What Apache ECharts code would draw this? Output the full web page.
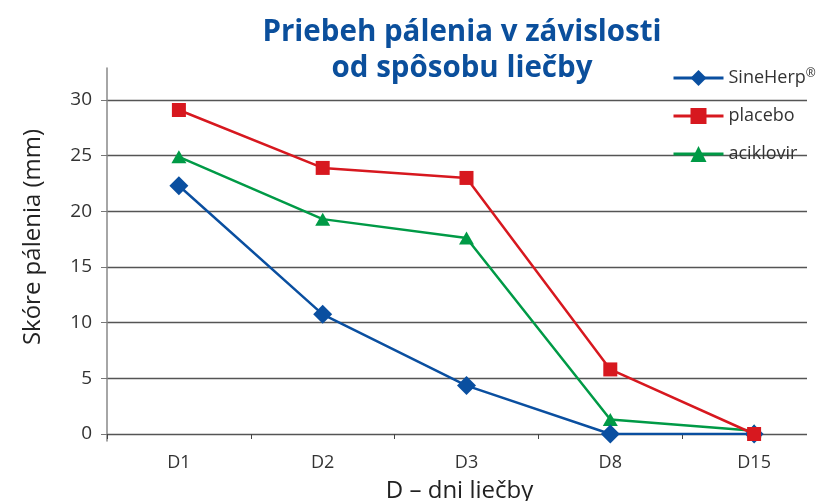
<!DOCTYPE html>
<html>
<head>
<meta charset="utf-8">
<script src="https://cdn.jsdelivr.net/npm/echarts@6/dist/echarts.min.js"></script>
<style>
  html, body { margin: 0; padding: 0; background: #fff; }
  #chart { width: 819px; height: 501px; }
</style>
</head>
<body>
<div id="chart"></div>
<script>
// dni liečby
var categories = ['D1', 'D2', 'D3', 'D8', 'D15'];
// skóre pálenia (mm)
var sineHerp = [22.3, 10.75, 4.35, 0, 0];
var placebo = [29.1, 23.9, 23.0, 5.8, 0];
var aciklovir = [24.9, 19.3, 17.6, 1.3, 0.3];

var font = 'Open Sans';
var chart = echarts.init(document.getElementById('chart'));

var option = {
    animation: false,
    title: {
        text: 'Priebeh pálenia v závislosti\nod spôsobu liečby',
        left: 457,
        top: 10,
        textAlign: 'center',
        textStyle: {
            color: '#0b4f9c',
            fontFamily: font,
            fontWeight: 'bold',
            fontSize: 29.5,
            lineHeight: 36
        }
    },
    legend: {
        orient: 'vertical',
        left: 667,
        top: 63,
        itemGap: 20,
        itemWidth: 50,
        itemHeight: 20,
        data: ['SineHerp', 'placebo', 'aciklovir'],
        lineStyle: { width: 3 },
        formatter: function (name) {
            return name === 'SineHerp' ? name + '{s|®}' : name;
        },
        textStyle: {
            color: '#333',
            fontFamily: font,
            fontSize: 18,
            rich: { s: { fontSize: 12, verticalAlign: 'top', padding: [0, 0, 8, 0], color: '#333', fontFamily: font } }
        }
    },
    graphic: [{
        type: 'text',
        x: 33,
        y: 237,
        rotation: Math.PI / 2,
        style: {
            text: 'Skóre pálenia (mm)',
            fill: '#222',
            font: '24px "Open Sans"',
            textAlign: 'center',
            textVerticalAlign: 'middle'
        }
    }],
    grid: [
        // dáta
        { left: 107, right: -7, top: 100, bottom: 67, outerBoundsMode: 'none' },
        // mriežka
        { left: 107, right: 12, top: 100, bottom: 67, outerBoundsMode: 'none' },
        // os y
        { left: 107, right: 12, top: 68, bottom: 60, outerBoundsMode: 'none' }
    ],
    xAxis: [
        {
            gridIndex: 0,
            type: 'category',
            data: categories,
            boundaryGap: true,
            name: 'D – dni liečby',
            nameLocation: 'middle',
            nameGap: 45,
            nameTextStyle: { color: '#222', fontFamily: font, fontSize: 24, padding: [0, 0, 0, -14] },
            axisLine: { show: false },
            axisTick: { show: true, length: 5, inside: false, lineStyle: { color: '#444' } },
            axisLabel: { color: '#333', fontFamily: font, fontSize: 18, margin: 20 }
        },
        { gridIndex: 1, type: 'value', show: false },
        { gridIndex: 2, type: 'value', show: false }
    ],
    yAxis: [
        {
            gridIndex: 0,
            type: 'value',
            min: 0,
            max: 30,
            interval: 5,
            axisLine: { show: false },
            axisTick: { show: true, length: 6, lineStyle: { color: '#777' } },
            axisLabel: { color: '#333', fontFamily: font, fontSize: 19, margin: 15 },
            splitLine: { show: false }
        },
        {
            gridIndex: 1,
            type: 'value',
            min: 0,
            max: 30,
            interval: 5,
            axisLine: { show: false },
            axisTick: { show: false },
            axisLabel: { show: false },
            splitLine: { show: true, lineStyle: { color: '#555', width: 1.3 } }
        },
        {
            gridIndex: 2,
            type: 'value',
            axisLine: { show: true, lineStyle: { color: '#888', width: 1.5 } },
            axisTick: { show: false },
            axisLabel: { show: false },
            splitLine: { show: false }
        }
    ],
    series: [
        {
            name: 'SineHerp',
            type: 'line',
            data: sineHerp,
            symbol: 'diamond',
            symbolSize: 19,
            z: 3,
            itemStyle: { color: '#0a4fa0' },
            lineStyle: { color: '#0a4fa0', width: 2.5 }
        },
        {
            name: 'placebo',
            type: 'line',
            data: placebo,
            symbol: 'rect',
            symbolSize: 14,
            z: 5,
            itemStyle: { color: '#d7181f' },
            lineStyle: { color: '#d7181f', width: 2.5 }
        },
        {
            name: 'aciklovir',
            type: 'line',
            data: aciklovir,
            symbol: 'triangle',
            symbolSize: [15, 13],
            z: 2,
            itemStyle: { color: '#009a46' },
            lineStyle: { color: '#009a46', width: 2.5 }
        }
    ]
};

chart.setOption(option);
</script>
</body>
</html>
